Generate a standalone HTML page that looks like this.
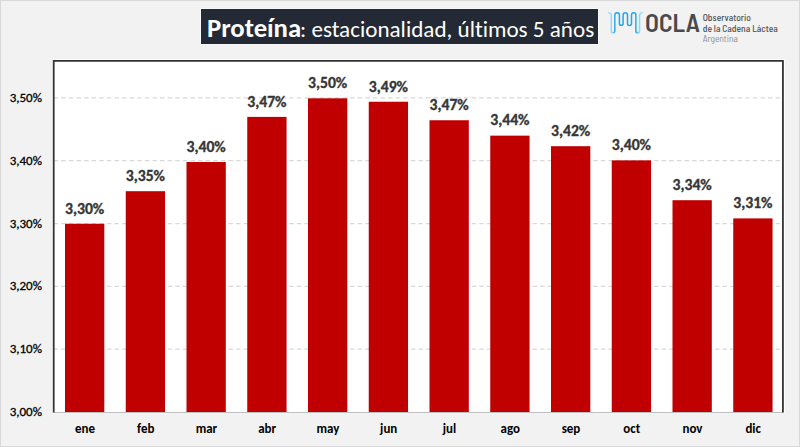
<!DOCTYPE html>
<html lang="es">
<head>
<meta charset="utf-8">
<title>Proteína: estacionalidad, últimos 5 años</title>
<style>
  html, body { margin: 0; padding: 0; }
  body {
    width: 800px; height: 447px; overflow: hidden; position: relative;
    background: #f2f2f2;
    font-family: Carlito, "Liberation Sans", sans-serif;
  }
  svg { position: absolute; left: 0; top: 0; display: block; }
  text { font-variant-ligatures: none; }
</style>
</head>
<body>
<svg width="800" height="447" viewBox="0 0 800 447">
  <!-- outer frame -->
  <rect x="0.5" y="0.5" width="799" height="446" fill="#f2f2f2" stroke="#d9d9d9" stroke-width="1"/>

  <!-- title -->
  <rect x="200.5" y="8.5" width="398" height="36" fill="#ffffff"/>
  <rect x="201" y="9" width="397" height="35" fill="#232a35"/>
  <text x="207" y="37" fill="#ffffff" font-family="Carlito, 'Liberation Sans', sans-serif" font-weight="bold" font-size="26.7" textLength="94.1" lengthAdjust="spacingAndGlyphs">Proteína</text>
  <text x="300" y="37" fill="#ffffff" font-family="Carlito, 'Liberation Sans', sans-serif" font-size="23.1" textLength="294.2" lengthAdjust="spacingAndGlyphs">: estacionalidad, últimos 5 años</text>

  <!-- plot area -->
  <rect x="54" y="61" width="729" height="351" fill="#ffffff"/>
  <g stroke="#d9d9d9" stroke-width="1.2" stroke-dasharray="4.5 3.1">
    <line x1="53.65" y1="97.9" x2="782" y2="97.9"/>
    <line x1="53.65" y1="160.72" x2="782" y2="160.72"/>
    <line x1="53.65" y1="223.54" x2="782" y2="223.54"/>
    <line x1="53.65" y1="286.36" x2="782" y2="286.36"/>
    <line x1="53.65" y1="349.18" x2="782" y2="349.18"/>
  </g>
  <g fill="#c00000">
    <rect x="65.00" y="223.75" width="39.3" height="188.25"/>
    <rect x="125.75" y="191.2" width="39.3" height="220.80"/>
    <rect x="186.50" y="162.0" width="39.3" height="250.00"/>
    <rect x="247.25" y="116.9" width="39.3" height="295.10"/>
    <rect x="308.00" y="98.3" width="39.3" height="313.70"/>
    <rect x="368.75" y="101.75" width="39.3" height="310.25"/>
    <rect x="429.50" y="120.25" width="39.3" height="291.75"/>
    <rect x="490.25" y="135.65" width="39.3" height="276.35"/>
    <rect x="551.00" y="146.2" width="39.3" height="265.80"/>
    <rect x="611.75" y="160.35" width="39.3" height="251.65"/>
    <rect x="672.50" y="200.2" width="39.3" height="211.80"/>
    <rect x="733.25" y="218.4" width="39.3" height="193.60"/>
  </g>
  <!-- axes / border -->
  <line x1="54" y1="412.5" x2="783" y2="412.5" stroke="#bfbfbf" stroke-width="1"/>
  <path d="M52.5 412 V59.6 H784.6 V413" fill="none" stroke="#ffffff" stroke-width="1"/>
  <path d="M53.7 412.5 V60.9 H782.9 V412.5" fill="none" stroke="#333333" stroke-width="1.8"/>

  <!-- value labels -->
  <g font-family="Carlito, 'Liberation Sans', sans-serif" font-weight="bold" font-size="16.3" fill="#363636" stroke="#363636" stroke-width="0.35" text-anchor="middle">
    <text x="84.65" y="213.55" textLength="39.3" lengthAdjust="spacingAndGlyphs">3,30%</text>
    <text x="145.40" y="181.00" textLength="39.3" lengthAdjust="spacingAndGlyphs">3,35%</text>
    <text x="206.15" y="151.80" textLength="39.3" lengthAdjust="spacingAndGlyphs">3,40%</text>
    <text x="266.90" y="106.70" textLength="39.3" lengthAdjust="spacingAndGlyphs">3,47%</text>
    <text x="327.65" y="88.10" textLength="39.3" lengthAdjust="spacingAndGlyphs">3,50%</text>
    <text x="388.40" y="91.55" textLength="39.3" lengthAdjust="spacingAndGlyphs">3,49%</text>
    <text x="449.15" y="110.05" textLength="39.3" lengthAdjust="spacingAndGlyphs">3,47%</text>
    <text x="509.90" y="125.45" textLength="39.3" lengthAdjust="spacingAndGlyphs">3,44%</text>
    <text x="570.65" y="136.00" textLength="39.3" lengthAdjust="spacingAndGlyphs">3,42%</text>
    <text x="631.40" y="150.15" textLength="39.3" lengthAdjust="spacingAndGlyphs">3,40%</text>
    <text x="692.15" y="190.00" textLength="39.3" lengthAdjust="spacingAndGlyphs">3,34%</text>
    <text x="752.90" y="208.20" textLength="39.3" lengthAdjust="spacingAndGlyphs">3,31%</text>
  </g>
  <!-- y axis labels -->
  <g font-family="Carlito, 'Liberation Sans', sans-serif" font-size="13" fill="#000" stroke="#000" stroke-width="0.3" text-anchor="end">
    <text x="42" y="101.80" textLength="32.3" lengthAdjust="spacingAndGlyphs">3,50%</text>
    <text x="42" y="164.65" textLength="32.3" lengthAdjust="spacingAndGlyphs">3,40%</text>
    <text x="42" y="227.50" textLength="32.3" lengthAdjust="spacingAndGlyphs">3,30%</text>
    <text x="42" y="290.35" textLength="32.3" lengthAdjust="spacingAndGlyphs">3,20%</text>
    <text x="42" y="353.20" textLength="32.3" lengthAdjust="spacingAndGlyphs">3,10%</text>
    <text x="42" y="416.10" textLength="32.3" lengthAdjust="spacingAndGlyphs">3,00%</text>
  </g>
  <!-- x axis labels -->
  <g font-family="Carlito, 'Liberation Sans', sans-serif" font-weight="bold" font-size="12.95" fill="#000" text-anchor="middle">
    <text x="84.95" y="433" textLength="19.99" lengthAdjust="spacingAndGlyphs">ene</text>
    <text x="145.70" y="433" textLength="17.34" lengthAdjust="spacingAndGlyphs">feb</text>
    <text x="206.45" y="433" textLength="21.53" lengthAdjust="spacingAndGlyphs">mar</text>
    <text x="267.20" y="433" textLength="17.95" lengthAdjust="spacingAndGlyphs">abr</text>
    <text x="327.95" y="433" textLength="22.83" lengthAdjust="spacingAndGlyphs">may</text>
    <text x="388.70" y="433" textLength="17.20" lengthAdjust="spacingAndGlyphs">jun</text>
    <text x="449.45" y="433" textLength="13.44" lengthAdjust="spacingAndGlyphs">jul</text>
    <text x="510.20" y="433" textLength="19.37" lengthAdjust="spacingAndGlyphs">ago</text>
    <text x="570.95" y="433" textLength="18.64" lengthAdjust="spacingAndGlyphs">sep</text>
    <text x="631.70" y="433" textLength="16.87" lengthAdjust="spacingAndGlyphs">oct</text>
    <text x="692.45" y="433" textLength="20.01" lengthAdjust="spacingAndGlyphs">nov</text>
    <text x="753.20" y="433" textLength="15.55" lengthAdjust="spacingAndGlyphs">dic</text>
  </g>

  <!-- OCLA logo -->
  <defs>
    <linearGradient id="wg" x1="608" y1="0" x2="643" y2="0" gradientUnits="userSpaceOnUse">
      <stop offset="0" stop-color="#b3e3f9"/>
      <stop offset="0.12" stop-color="#8fd5f6"/>
      <stop offset="0.2" stop-color="#18aaf0"/>
      <stop offset="0.8" stop-color="#18aaf0"/>
      <stop offset="0.88" stop-color="#8fd5f6"/>
      <stop offset="1" stop-color="#b3e3f9"/>
    </linearGradient>
  </defs>
  <path d="M608.7 12.7 C610.5 12.7 611.3 13.5 611.3 15.5 V31 A1.75 1.75 0 0 0 614.8 31 V15 A2.3 2.3 0 0 1 619.4 15 V23.5 A1.85 1.85 0 0 0 623.1 23.5 V15 A2.2 2.2 0 0 1 627.5 15 V23.5 A2 2 0 0 0 631.5 23.5 V15 A2.2 2.2 0 0 1 635.9 15 V31 A1.85 1.85 0 0 0 639.6 31 V15.5 C639.6 13.5 640.5 12.7 642.6 12.7"
        fill="none" stroke="url(#wg)" stroke-width="1.5" stroke-linecap="round" stroke-linejoin="round"/>
  <text x="645" y="31.5" font-family="'Barlow Semi Condensed', 'Barlow', 'Liberation Sans', sans-serif" font-weight="600" font-size="25.6" fill="#4a4a4c" textLength="55" lengthAdjust="spacingAndGlyphs">OCLA</text>
  <g font-family="'Barlow Semi Condensed', 'Barlow', 'Liberation Sans', sans-serif" font-size="9.9" font-weight="500">
    <text x="702.7" y="21.4" fill="#545456" textLength="48.3" lengthAdjust="spacingAndGlyphs">Observatorio</text>
    <text x="702.7" y="31.6" fill="#545456" textLength="75.1" lengthAdjust="spacingAndGlyphs">de la Cadena Láctea</text>
    <text x="702.7" y="42.2" fill="#8e8e90" font-weight="400" textLength="35.2" lengthAdjust="spacingAndGlyphs">Argentina</text>
  </g>
</svg>
</body>
</html>
